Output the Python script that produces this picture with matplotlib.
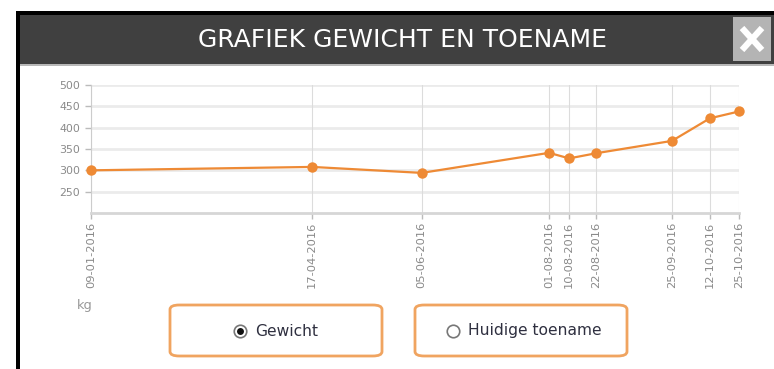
import matplotlib
matplotlib.use("Agg")
import matplotlib.pyplot as plt
import matplotlib.dates as mdates
from matplotlib.patches import Rectangle, FancyBboxPatch
import pandas as pd

W, H = 774, 369

# weighings (date, kg)
dates = ['09-01-2016', '17-04-2016', '05-06-2016', '01-08-2016', '10-08-2016',
         '22-08-2016', '25-09-2016', '12-10-2016', '25-10-2016']
weights = [300, 308, 294, 341, 328, 340, 369, 422, 438]
y_ticks = [250, 300, 350, 400, 450, 500]
title = 'GRAFIEK GEWICHT EN TOENAME'
buttons = ['Gewicht', 'Huidige toename']

x = pd.to_datetime(dates, format='%d-%m-%Y')

fig = plt.figure(figsize=(W / 100, H / 100), dpi=100)
fig.patch.set_facecolor('white')


def fx(px):
    return px / W


def fy(py):
    return 1 - py / H


def pt(px):
    return px * 0.72


# window frame and header
fig.patches.append(Rectangle((fx(16), 0), fx(W - 16), fy(11), transform=fig.transFigure,
                             facecolor='#000000', edgecolor='none', zorder=0))
fig.patches.append(Rectangle((fx(20), 0), fx(W - 20), fy(65), transform=fig.transFigure,
                             facecolor='white', edgecolor='none', zorder=1))
fig.patches.append(Rectangle((fx(20), fy(64)), fx(W - 20), fy(15) - fy(64), transform=fig.transFigure,
                             facecolor='#404040', edgecolor='none', zorder=1))
fig.patches.append(Rectangle((fx(20), fy(66)), fx(W - 20), fy(64) - fy(66), transform=fig.transFigure,
                             facecolor='#b8b8b8', edgecolor='none', zorder=1))
fig.text(fx(402), fy(40), title, color='white', fontsize=pt(25), ha='center', va='center',
         family='DejaVu Sans', zorder=3)

# close button
fig.patches.append(Rectangle((fx(733), fy(61)), fx(38), fy(17) - fy(61), transform=fig.transFigure,
                             facecolor='#b4b4b4', edgecolor='none', zorder=2))
fig.lines.append(plt.Line2D([fx(742), fx(762)], [fy(28), fy(50)], transform=fig.transFigure,
                            color='white', lw=4.5, solid_capstyle='butt', zorder=3))
fig.lines.append(plt.Line2D([fx(742), fx(762)], [fy(50), fy(28)], transform=fig.transFigure,
                            color='white', lw=4.5, solid_capstyle='butt', zorder=3))

# chart
ax = fig.add_axes([fx(91), fy(213), fx(739 - 91), fy(85) - fy(213)])
ax.set_zorder(4)
ax.patch.set_alpha(0)
ax.set_xlim(x[0], x[-1])
ax.set_ylim(200, 500)
ax.set_yticks(y_ticks)
ax.set_xticks(x)
ax.xaxis.set_major_formatter(mdates.DateFormatter('%d-%m-%Y'))
ax.tick_params(axis='x', rotation=90, labelsize=pt(11.5), length=4, width=1, pad=2,
               color='#bbbbbb')
ax.tick_params(axis='y', labelsize=pt(11), length=4, width=1, pad=4, color='#bbbbbb')
for lab in ax.get_xticklabels() + ax.get_yticklabels():
    lab.set_color('#8a8a8a')
for yv in y_ticks:
    ax.axhline(yv, color='#ebebeb', lw=2, zorder=0)
for xv in x:
    ax.axvline(xv, color='#dcdcdc', lw=0.8, zorder=0)
for side in ['top', 'right']:
    ax.spines[side].set_visible(False)
ax.spines['left'].set_color('#cccccc')
ax.spines['bottom'].set_color('#d6d6d6')
ax.spines['bottom'].set_linewidth(2)
ax.plot(x, weights, color='#ee8a35', lw=1.6, marker='o', markersize=7.5,
        markeredgewidth=0, clip_on=False, zorder=5)

fig.text(fx(85), fy(305), 'kg', color='#999999', fontsize=pt(13), ha='center', va='center')

# series toggles
for i, (label, x0) in enumerate(zip(buttons, [170, 415])):
    fig.patches.append(FancyBboxPatch((fx(x0), fy(356)), fx(212), fy(305) - fy(356),
                                      boxstyle='round,pad=0,rounding_size=0.012',
                                      transform=fig.transFigure, facecolor='white',
                                      edgecolor='#f0a460', lw=2, zorder=2))
    cx = x0 + (70 if i == 0 else 38)
    fig.lines.append(plt.Line2D([fx(cx)], [fy(331)], transform=fig.transFigure, marker='o',
                                markersize=9, markerfacecolor='white', markeredgecolor='#777777',
                                markeredgewidth=1.2, zorder=3))
    if i == 0:
        fig.lines.append(plt.Line2D([fx(cx)], [fy(331)], transform=fig.transFigure, marker='o',
                                    markersize=5, markerfacecolor='#111111',
                                    markeredgewidth=0, zorder=4))
    fig.text(fx(cx + 15), fy(331), label, color='#2f3040', fontsize=pt(15.5), ha='left',
             va='center', zorder=4)

fig.savefig('out.png', dpi=100, facecolor='white')
